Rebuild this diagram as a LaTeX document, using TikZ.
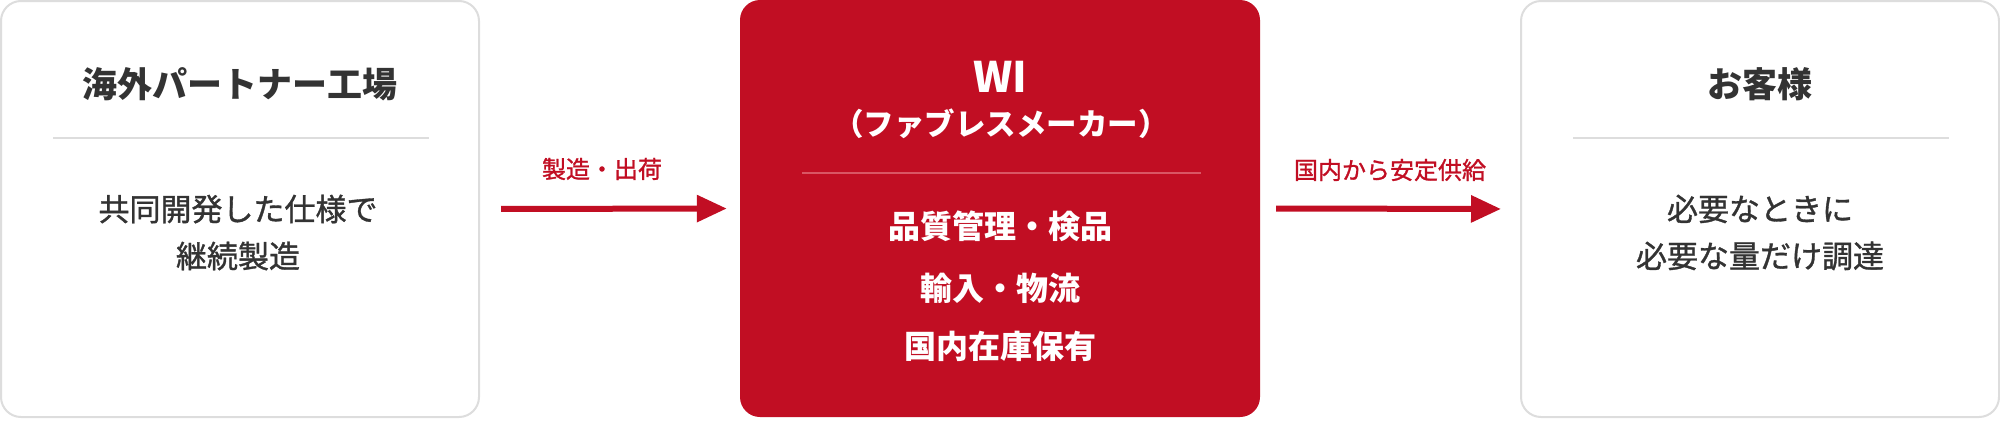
\documentclass[tikz,border=0pt]{standalone}
\usepackage{fontspec}
\newfontfamily\jp{Noto Sans CJK JP}
\newfontfamily\jpm{Noto Sans CJK JP}[FakeBold=1.1]
\usetikzlibrary{arrows.meta}
\definecolor{wired}{HTML}{C10E23}
\definecolor{boxline}{HTML}{DDDDDD}
\definecolor{txt}{HTML}{333333}
\definecolor{middiv}{HTML}{D95664}
\tikzset{
  sidebox/.style={draw=boxline, line width=2pt, fill=white, rounded corners=20pt,
    minimum width=478pt, minimum height=416pt, inner sep=0pt},
  midbox/.style={fill=wired, rounded corners=20pt,
    minimum width=520pt, minimum height=417pt, inner sep=0pt},
  ttl/.style={text=txt, font=\jp\bfseries\fontsize{35}{40}\selectfont, inner sep=0pt},
  body/.style={text=txt, font=\jpm\fontsize{31}{47}\selectfont, align=center, inner sep=0pt},
  midttl/.style={text=white, font=\jp\bfseries\fontsize{42}{48}\selectfont, inner sep=0pt},
  midsub/.style={text=white, font=\jp\bfseries\fontsize{30.5}{36}\selectfont, inner sep=0pt},
  midbody/.style={text=white, font=\jp\bfseries\fontsize{32}{36}\selectfont, inner sep=0pt},
  lbl/.style={text=wired, font=\jpm\fontsize{24}{28}\selectfont, inner sep=0pt},
  sidediv/.style={draw=boxline, line width=2pt},
  mdiv/.style={draw=middiv, line width=1.5pt},
  arr/.style={draw=wired, line width=6pt, -{Triangle[length=30pt,width=26pt]}},
}
\begin{document}
\begin{tikzpicture}[x=1pt,y=-1pt]
\useasboundingbox (0,0) rectangle (2000,421);
% boxes
\node[sidebox] (left) at (240,209) {};
\node[midbox] (mid) at (1000,208.5) {};
\node[sidebox] (right) at (1760,209) {};
% left box content
\node[ttl] (lt) at (240,84) {海外パートナー工場};
\draw[sidediv] (53,138) -- (429,138);
\node[body] (lb) at (238,232.5) {共同開発した仕様で\\継続製造};
% middle box content
\node[midttl] (mt) at (1000,77) {WI};
\node[midsub] (ms) at (1001,124) {（ファブレスメーカー）};
\draw[mdiv] (802,173) -- (1201,173);
\node[midbody] (m1) at (1000,226) {品質管理・検品};
\node[midbody] (m2) at (1000,288) {輸入・物流};
\node[midbody] (m3) at (1000,346) {国内在庫保有};
% right box content
\node[ttl] (rt) at (1760,84) {お客様};
\draw[sidediv] (1573,138) -- (1949,138);
\node[body] (rb) at (1760,232.5) {必要なときに\\必要な量だけ調達};
% arrows
\draw[arr, shorten <=21pt, shorten >=13pt] (left.east) -- (mid.west);
\draw[arr, shorten <=16pt, shorten >=19pt] (mid.east) -- (right.west);
\node[lbl] (l1) at (602,169) {製造・出荷};
\node[lbl] (l2) at (1390,170) {国内から安定供給};
\end{tikzpicture}
\end{document}
